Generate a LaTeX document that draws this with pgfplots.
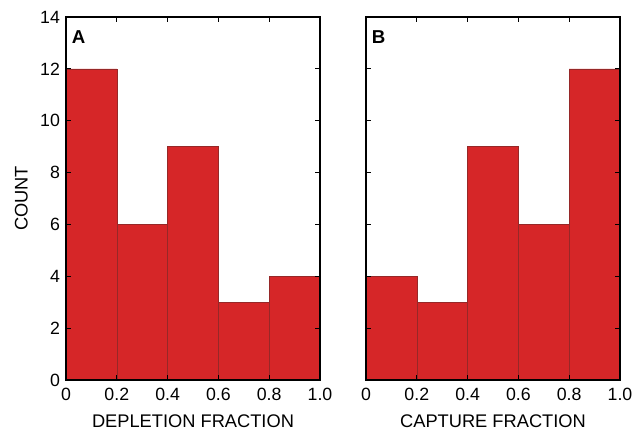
\documentclass[border=0pt]{standalone}
\usepackage{fontspec}
\setmainfont{Liberation Sans}
\usepackage{pgfplots}
\pgfplotsset{compat=1.18}
\definecolor{barred}{RGB}{214,38,40}
\definecolor{baredge}{RGB}{150,40,40}
\pgfplotsset{
  panel/.style={
    scale only axis,
    width=190.5pt, height=272.25pt,
    xmin=0, xmax=1, ymin=0, ymax=14,
    xtick={0,0.2,0.4,0.6,0.8,1.0},
    xticklabels={0,0.2,0.4,0.6,0.8,1.0},
    ytick={0,2,...,14},
    tick align=inside,
    major tick length=4pt,
    axis line style={line width=1.2pt},
    every tick/.style={black, line width=0.8pt},
    tick label style={font=\fontsize{13.3}{14}\selectfont},
    label style={font=\fontsize{13.7}{14}\selectfont},
    /pgf/number format/assume math mode=true,
    xticklabel style={yshift=-2.5pt},
    yticklabel style={xshift=-1pt},
    axis on top,
    clip=false,
  }
}
\begin{document}
\begin{tikzpicture}
\useasboundingbox (-49.5pt,-39pt) rectangle (432.75pt,285pt);
\begin{axis}[panel, at={(0pt,0pt)}, anchor=south west,
  xlabel={DEPLETION FRACTION}, ylabel={COUNT},
  ylabel style={yshift=2.5pt},
  xlabel style={yshift=-4pt}]
\addplot[ybar interval, fill=barred, draw=baredge, line width=0.4pt]
  coordinates {(0,12) (0.2,6) (0.4,9) (0.6,3) (0.8,4) (1.0,4)};
\node[anchor=north west, inner sep=0pt, font=\bfseries\fontsize{14}{14}\selectfont] at (rel axis cs:0.022,0.962) {A};
\end{axis}
\begin{axis}[panel, at={(225pt,0pt)}, anchor=south west,
  xlabel={CAPTURE FRACTION}, yticklabels={},
  xlabel style={yshift=-4pt}]
\addplot[ybar interval, fill=barred, draw=baredge, line width=0.4pt]
  coordinates {(0,4) (0.2,3) (0.4,9) (0.6,6) (0.8,12) (1.0,12)};
\node[anchor=north west, inner sep=0pt, font=\bfseries\fontsize{14}{14}\selectfont] at (rel axis cs:0.022,0.962) {B};
\end{axis}
\end{tikzpicture}
\end{document}
